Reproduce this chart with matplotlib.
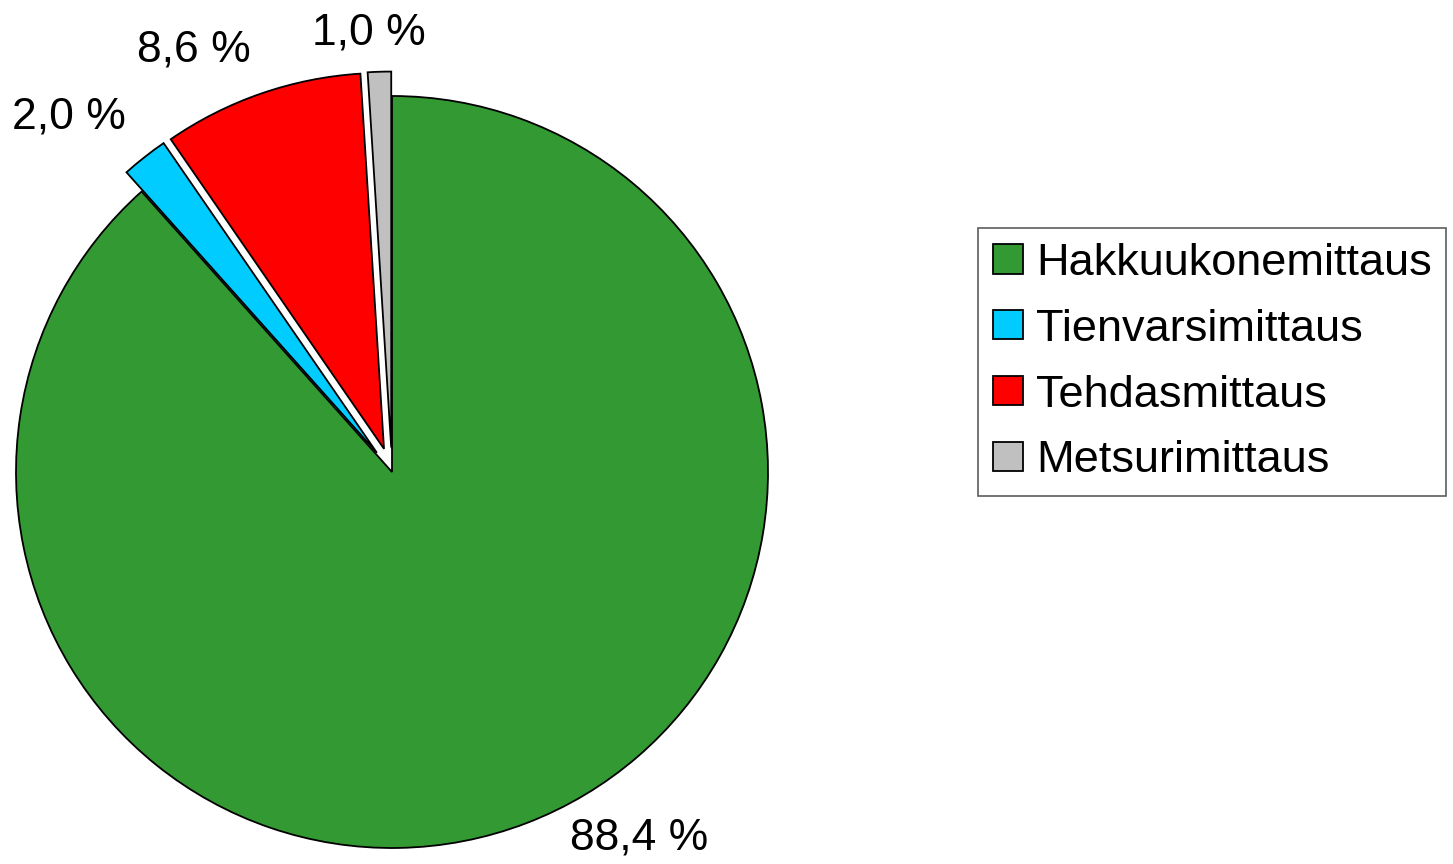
import matplotlib.pyplot as plt
import numpy as np

categories = ['Hakkuukonemittaus', 'Tienvarsimittaus', 'Tehdasmittaus', 'Metsurimittaus']
shares = [88.4, 2.0, 8.6, 1.0]
label_texts = ['88,4 %', '2,0 %', '8,6 %', '1,0 %']
colors = ['#339933', '#00CCFF', '#FF0000', '#C0C0C0']
explode = [0.0, 0.065, 0.065, 0.065]

plt.rcParams['font.family'] = ['Liberation Sans', 'DejaVu Sans']

fig = plt.figure(figsize=(14.53, 8.64), dpi=100)
# pie centre ~ (392, 472) px, radius ~ 376 px
r_px = 376
ax = fig.add_axes([(392 - r_px) / 1453, (392 - r_px) / 864, 2 * r_px / 1453, 2 * r_px / 864])

wedges, _ = ax.pie(shares, colors=colors, explode=explode, startangle=90,
                   counterclock=False, radius=1.0,
                   wedgeprops=dict(edgecolor='black', linewidth=1.3))
ax.set_xlim(-1, 1)
ax.set_ylim(-1, 1)
ax.set_aspect('equal')
ax.axis('off')

# label placement: (angle deg, distance in radii) per slice, as in the reference
label_pos = [(-56, 1.175), (132.3, 1.275), (115.2, 1.24), (93, 1.17)]
for txt, (ang, dist) in zip(label_texts, label_pos):
    a = np.deg2rad(ang)
    ax.text(dist * np.cos(a), dist * np.sin(a), txt, ha='center', va='center',
            fontsize=32, clip_on=False)

leg = fig.legend(wedges, categories, loc='upper left',
                 bbox_to_anchor=(978 / 1453, 1 - 228 / 864),
                 fontsize=32.5, frameon=True, fancybox=False, edgecolor='#333333',
                 handlelength=0.66, handleheight=0.62, handletextpad=0.29,
                 labelspacing=0.55, borderpad=0.33, borderaxespad=0)
leg.get_frame().set_linewidth(1.2)

fig.savefig('out.png', dpi=100)
